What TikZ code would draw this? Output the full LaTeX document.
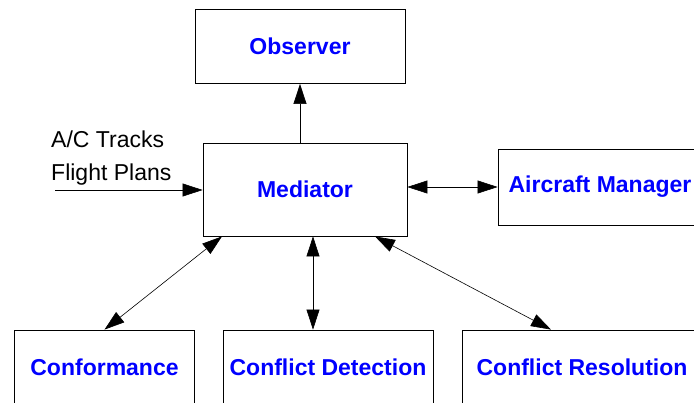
\documentclass[tikz,border=0pt]{standalone}
\usepackage{fontspec}
\setmainfont{Liberation Sans}
\usetikzlibrary{arrows.meta}

\tikzset{
  block/.style={draw, thick, rectangle, inner sep=0pt, text=blue,
                font=\fontsize{23}{27}\selectfont\bfseries},
  arr/.style={-{Triangle[length=20pt,width=13pt]}, semithick},
  dbl/.style={{Triangle[length=20pt,width=13pt]}-{Triangle[length=20pt,width=13pt]}, semithick},
  lbl/.style={inner sep=0pt, anchor=base west, font=\fontsize{23}{27}\selectfont}
}

\begin{document}
\begin{tikzpicture}[x=1pt, y=-1pt]
  \useasboundingbox (0,0) rectangle (694,402);
  \node (obs)  at (300,46.5) [block, minimum width=210pt, minimum height=74pt] {Observer};
  \node (med)  at (305,189.5)[block, minimum width=204pt, minimum height=93pt] {Mediator};
  \node (acm)  at (600,187)  [block, minimum width=204pt, minimum height=76pt] {Aircraft Manager};
  \node (conf) at (104.5,367)[block, minimum width=180pt, minimum height=74pt] {Conformance};
  \node (cd)   at (328,367)  [block, minimum width=210pt, minimum height=74pt] {Conflict Detection};
  \node (cr)   at (582,367)  [block, minimum width=240pt, minimum height=74pt] {Conflict Resolution};
  \node (tracks) at (51,147) [lbl] {A/C Tracks};
  \node (plans)  at (51,180) [lbl] {Flight Plans};
  \coordinate (in) at (55,190);
  % links of the mediator
  \draw[arr] (obs.south |- med.north) -- (obs.south);
  \draw[arr] (in) -- (in -| med.west);
  \draw[dbl] (med.east |- acm) -- (acm.west);
  \draw[dbl] ([xshift=-83pt]med.south) -- (conf.north);
  \draw[dbl] ([xshift=8pt]med.south) -- ([xshift=-15pt]cd.north);
  \draw[dbl] ([xshift=70pt]med.south) -- ([xshift=-31pt]cr.north);
\end{tikzpicture}
\end{document}
